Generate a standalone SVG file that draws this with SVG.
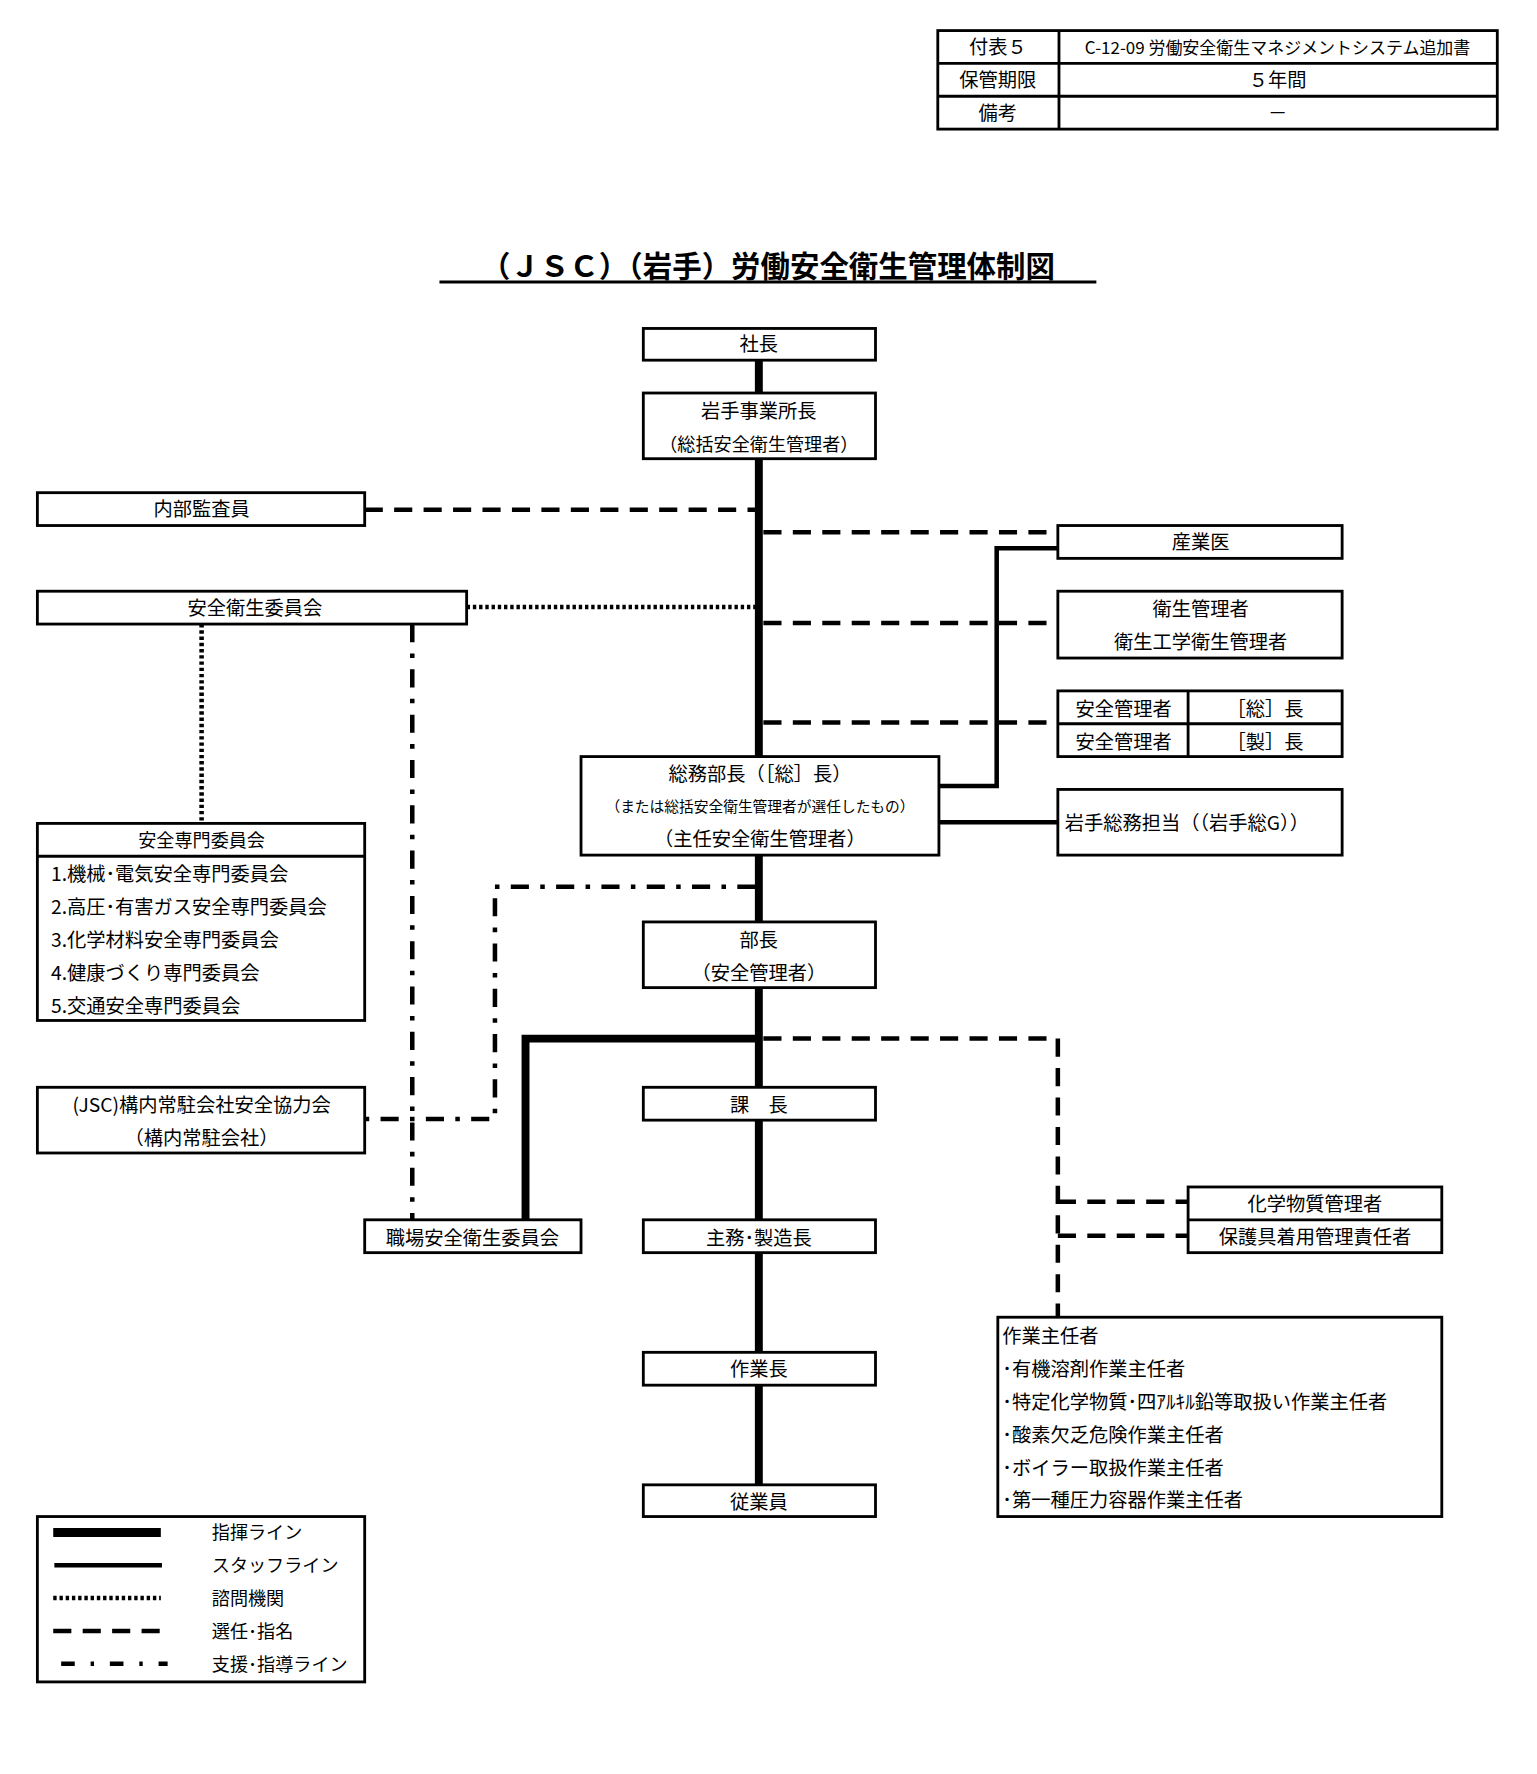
<svg xmlns="http://www.w3.org/2000/svg" width="1537" height="1774" viewBox="0 0 1537 1774">
<style>
text{font-family:"Noto Sans CJK JP","Liberation Sans",sans-serif;font-size:17px;fill:#000}
.c{text-anchor:middle}
.b{fill:#fff;stroke:#000;stroke-width:2.5}
.ln{fill:none;stroke:#000}
.main{stroke-width:7}
.staff{stroke-width:4}
.dot{stroke-width:4;stroke-dasharray:3 2.5}
.dash{stroke-width:4;stroke-dasharray:16 10}
.dd{stroke-width:4;stroke-dasharray:16 10 4 10}
</style>
<rect width="1537" height="1774" fill="#fff"/>
<g transform="scale(1.1326)">
<g id="header">
<rect class="b" x="828" y="27" width="494" height="87"/>
<path class="ln" stroke-width="2.5" d="M828 56H1322M828 85H1322M935 27V114"/>
<text class="c" x="881" y="48">付表５</text>
<text class="c" x="1128" y="48" style="font-size:15px">C-12-09 労働安全衛生マネジメントシステム追加書</text>
<text class="c" x="881" y="77">保管期限</text>
<text class="c" x="1128" y="77">５年間</text>
<text class="c" x="881" y="106">備考</text>
<text class="c" x="1128" y="106">－</text>
</g>
<g id="title">
<text class="c" x="678" y="245" style="font-size:26px;font-weight:bold">（ＪＳＣ）（岩手）労働安全衛生管理体制図</text>
<path class="ln" stroke-width="2.5" d="M388 249H968"/>
</g>
<g id="connectors">
<path class="ln main" d="M670 318V1311"/>
<path class="ln dash" d="M322 450H667"/>
<path class="ln dash" d="M674 470H934"/>
<path class="ln dot" d="M412 536H667"/>
<path class="ln dash" d="M674 550H934"/>
<path class="ln dash" d="M674 638H934"/>
<path class="ln staff" d="M829 694H880V484H934"/>
<path class="ln staff" d="M829 726H934"/>
<path class="ln dd" d="M667 783H437V988H322"/>
<path class="ln dot" d="M178 551V727"/>
<path class="ln dd" d="M364 551V1077"/>
<path class="ln main" stroke-width="6" d="M670 917H464V1077"/>
<path class="ln dash" d="M674 917H934V1163"/>
<path class="ln dash" d="M934 1061H1049M934 1091H1049"/>
</g>
<g id="n-shacho"><rect class="b" x="568" y="290" width="205" height="28"/><text class="c" x="670" y="310">社長</text></g>
<g id="n-jigyosho"><rect class="b" x="568" y="347" width="205" height="58"/><text class="c" x="670" y="369">岩手事業所長</text><text class="c" x="670" y="398" style="font-size:16px">（総括安全衛生管理者）</text></g>
<g id="n-naibu"><rect class="b" x="33" y="435" width="289" height="29"/><text class="c" x="178" y="456">内部監査員</text></g>
<g id="n-sangyoi"><rect class="b" x="934" y="464" width="251" height="29"/><text class="c" x="1060" y="485">産業医</text></g>
<g id="n-anzeneisei"><rect class="b" x="33" y="522" width="379" height="29"/><text class="c" x="225" y="543">安全衛生委員会</text></g>
<g id="n-eisei"><rect class="b" x="934" y="522" width="251" height="59"/><text class="c" x="1060" y="544">衛生管理者</text><text class="c" x="1060" y="573">衛生工学衛生管理者</text></g>
<g id="n-anzenkanri"><rect class="b" x="934" y="610" width="251" height="58"/><path class="ln" stroke-width="2.5" d="M934 639H1185M1049 610V668"/>
<text class="c" x="992" y="632">安全管理者</text><text class="c" x="1117" y="632">［総］長</text>
<text class="c" x="992" y="661">安全管理者</text><text class="c" x="1117" y="661">［製］長</text></g>
<g id="n-somu"><rect class="b" x="513" y="668" width="316" height="87"/><text class="c" x="671" y="690">総務部長（［総］長）</text><text class="c" x="671" y="717" style="font-size:13px">（または総括安全衛生管理者が選任したもの）</text><text class="c" x="671" y="747">（主任安全衛生管理者）</text></g>
<g id="n-iwatesomu"><rect class="b" x="934" y="697" width="251" height="58"/><text x="940" y="733">岩手総務担当（（岩手総G））</text></g>
<g id="n-senmon"><rect class="b" x="33" y="727" width="289" height="174"/><path class="ln" stroke-width="2.5" d="M33 756H322"/>
<text class="c" x="178" y="748" style="font-size:16px">安全専門委員会</text>
<text x="45" y="778">1.機械･電気安全専門委員会</text>
<text x="45" y="807">2.高圧･有害ガス安全専門委員会</text>
<text x="45" y="836">3.化学材料安全専門委員会</text>
<text x="45" y="865">4.健康づくり専門委員会</text>
<text x="45" y="894">5.交通安全専門委員会</text></g>
<g id="n-bucho"><rect class="b" x="568" y="814" width="205" height="58"/><text class="c" x="670" y="836">部長</text><text class="c" x="670" y="865">（安全管理者）</text></g>
<g id="n-kyoryoku"><rect class="b" x="33" y="960" width="289" height="58"/><text class="c" x="178" y="982">(JSC)構内常駐会社安全協力会</text><text class="c" x="178" y="1011">（構内常駐会社）</text></g>
<g id="n-kacho"><rect class="b" x="568" y="960" width="205" height="29"/><text class="c" x="670" y="982">課　長</text></g>
<g id="n-shokuba"><rect class="b" x="322" y="1077" width="191" height="29"/><text class="c" x="417" y="1099">職場安全衛生委員会</text></g>
<g id="n-shumu"><rect class="b" x="568" y="1077" width="205" height="29"/><text class="c" x="670" y="1099">主務･製造長</text></g>
<g id="n-kagaku"><rect class="b" x="1049" y="1048" width="224" height="58"/><path class="ln" stroke-width="2.5" d="M1049 1077H1273"/><text class="c" x="1161" y="1069">化学物質管理者</text><text class="c" x="1161" y="1098">保護具着用管理責任者</text></g>
<g id="n-sagyocho"><rect class="b" x="568" y="1194" width="205" height="29"/><text class="c" x="670" y="1215">作業長</text></g>
<g id="n-shunin"><rect class="b" x="881" y="1163" width="392" height="176"/>
<text x="885" y="1186">作業主任者</text>
<text x="885" y="1215">･有機溶剤作業主任者</text>
<text x="885" y="1244">･特定化学物質･四ｱﾙｷﾙ鉛等取扱い作業主任者</text>
<text x="885" y="1273">･酸素欠乏危険作業主任者</text>
<text x="885" y="1302">･ボイラー取扱作業主任者</text>
<text x="885" y="1331">･第一種圧力容器作業主任者</text></g>
<g id="n-jugyoin"><rect class="b" x="568" y="1311" width="205" height="28"/><text class="c" x="670" y="1332">従業員</text></g>
<g id="legend"><rect class="b" x="33" y="1339" width="289" height="146"/>
<path class="ln" stroke-width="8" d="M47 1353H142"/>
<path class="ln staff" d="M48 1382H143"/>
<path class="ln dot" d="M47 1411H142"/>
<path class="ln dash" d="M47 1440H142"/>
<path class="ln" stroke-width="4" stroke-dasharray="12 14 3 14" d="M54 1469H148"/>
<text x="187" y="1359" style="font-size:16px">指揮ライン</text>
<text x="187" y="1388" style="font-size:16px">スタッフライン</text>
<text x="187" y="1417" style="font-size:16px">諮問機関</text>
<text x="187" y="1446" style="font-size:16px">選任･指名</text>
<text x="187" y="1475" style="font-size:16px">支援･指導ライン</text></g>
</g>
</svg>
